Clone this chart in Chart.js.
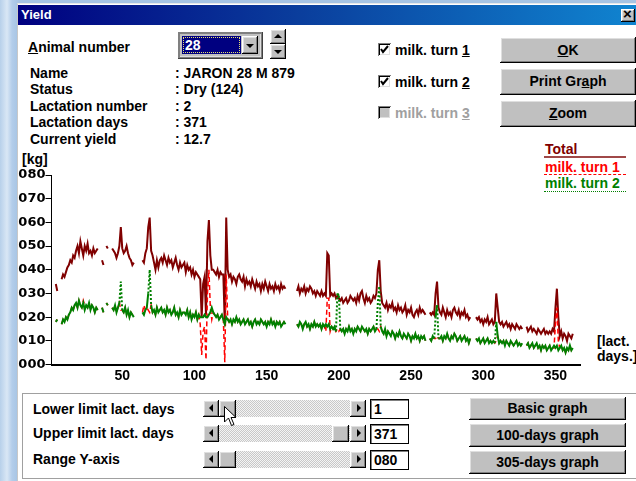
<!DOCTYPE html>
<html><head><meta charset="utf-8">
<script src="https://cdn.jsdelivr.net/npm/chart.js@4.4.1/dist/chart.umd.min.js"></script>
<style>
html,body{margin:0;padding:0}
body{width:636px;height:481px;position:relative;overflow:hidden;background:linear-gradient(90deg,#b7d0ea 0,#d9e7f5 7px,#b3cdea 12px,#a6c4e4 18px);font-family:'Liberation Sans',Arial,sans-serif}
.abs{position:absolute}
.t{position:absolute;font:bold 14px 'Liberation Sans',Arial,sans-serif;line-height:16px;white-space:nowrap;color:#000}
.raised{position:absolute;background:#c0c0c0;box-shadow:inset -1px -1px #000,inset 1px 1px #fff,inset -2px -2px #808080,inset 2px 2px #dfdfdf}
.btn{font:bold 14px 'Liberation Sans',Arial,sans-serif;text-align:center;color:#000;white-space:nowrap}
.sunken{position:absolute;background:#fff;box-shadow:inset 1px 1px #808080,inset -1px -1px #fff,inset 2px 2px #000,inset -2px -2px #dfdfdf}
.track{position:absolute;height:17px;background:repeating-conic-gradient(#c8c8c8 0 25%,#f4f4f4 0 50%) 0 0/2px 2px}
.tri-l{position:absolute;width:0;height:0;border-top:4px solid transparent;border-bottom:4px solid transparent;border-right:4px solid #000}
.tri-r{position:absolute;width:0;height:0;border-top:4px solid transparent;border-bottom:4px solid transparent;border-left:4px solid #000}
.tri-d{position:absolute;width:0;height:0;border-left:4px solid transparent;border-right:4px solid transparent;border-top:4px solid #000}
.tri-u{position:absolute;width:0;height:0;border-left:4px solid transparent;border-right:4px solid transparent;border-bottom:4px solid #000}
.edit{position:absolute;background:#fff;border:1px solid #000;box-shadow:inset 1px 1px #808080;font:bold 14px 'Liberation Sans',Arial,sans-serif;line-height:18px;padding-left:3px;box-sizing:border-box}
#chart{position:absolute;left:0;top:0;z-index:5;pointer-events:none}
</style></head>
<body>
<!-- dialog body -->
<div class="abs" style="left:17px;top:3px;width:619px;height:478px;background:#fff;border-left:1px solid #c8c8c8;border-top:1px solid #e8e8e8"></div>
<!-- title bar -->
<div class="abs" style="left:18px;top:5px;width:618px;height:20px;background:linear-gradient(90deg,#000080 0,#0a3d9c 45%,#1084d0 100%)"></div>
<div class="t" style="left:21px;top:7px;color:#fff;font-size:13px">Yield</div>
<div class="raised" style="left:621px;top:9px;width:14px;height:13px"></div>
<div class="t" style="left:623px;top:6px;font-size:15px">×</div>

<!-- animal info -->
<div class="t" style="left:28px;top:39px"><u>A</u>nimal number</div>
<div class="abs" style="left:177px;top:31px;width:86px;height:28px;background:#c0c0c0;box-shadow:inset 1px 1px #fff,inset -1px -1px #404040,inset 2px 2px #808080,inset -2px -2px #808080,inset 3px 3px #808080,inset -3px -3px #dfdfdf"></div>
<div class="abs" style="left:182px;top:36px;width:59px;height:18px;background:#000080"></div>
<div class="abs" style="left:183px;top:37px;width:55px;height:14px;border:1px dotted #e8e070"></div>
<div class="t" style="left:185px;top:37px;color:#fff">28</div>
<div class="raised" style="left:242px;top:36px;width:16px;height:18px"></div>
<div class="tri-d" style="left:246px;top:44px"></div>
<div class="raised" style="left:270px;top:29px;width:16px;height:15px"></div>
<div class="tri-u" style="left:274px;top:34px"></div>
<div class="raised" style="left:270px;top:44px;width:16px;height:15px"></div>
<div class="tri-d" style="left:274px;top:50px"></div>

<div class="t" style="left:30px;top:65px">Name</div>
<div class="t" style="left:30px;top:81px">Status</div>
<div class="t" style="left:30px;top:98px">Lactation number</div>
<div class="t" style="left:30px;top:114px">Lactation days</div>
<div class="t" style="left:30px;top:131px">Current yield</div>
<div class="t" style="left:175px;top:65px">: JARON 28 M 879</div>
<div class="t" style="left:175px;top:81px">: Dry (124)</div>
<div class="t" style="left:175px;top:98px">: 2</div>
<div class="t" style="left:175px;top:114px">: 371</div>
<div class="t" style="left:175px;top:131px">: 12.7</div>

<!-- checkboxes -->
<div class="sunken" style="left:378px;top:43px;width:13px;height:13px"></div>
<svg class="abs" style="left:378px;top:43px" width="13" height="13"><polyline points="3,6 5,9 10,3" fill="none" stroke="#000" stroke-width="2"/></svg>
<div class="t" style="left:395px;top:42px">milk. turn <u>1</u></div>
<div class="sunken" style="left:378px;top:75px;width:13px;height:13px"></div>
<svg class="abs" style="left:378px;top:75px" width="13" height="13"><polyline points="3,6 5,9 10,3" fill="none" stroke="#000" stroke-width="2"/></svg>
<div class="t" style="left:395px;top:74px">milk. turn <u>2</u></div>
<div class="sunken" style="left:378px;top:106px;width:13px;height:13px;background:#c0c0c0"></div>
<div class="t" style="left:395px;top:105px;color:#a0a0a0">milk. turn <u>3</u></div>

<!-- buttons -->
<div class="raised btn" style="left:500px;top:37px;width:136px;height:26px;line-height:26px"><u>O</u>K</div>
<div class="raised btn" style="left:500px;top:68px;width:136px;height:27px;line-height:27px">Print Gr<u>a</u>ph</div>
<div class="raised btn" style="left:500px;top:100px;width:136px;height:27px;line-height:27px"><u>Z</u>oom</div>

<!-- legend -->
<div class="t" style="left:545px;top:141px;color:#800000">Total</div>
<div class="abs" style="left:544px;top:156px;width:82px;border-top:2px solid #a04848"></div>
<div class="t" style="left:545px;top:159px;color:#ff0000">milk. turn 1</div>
<div class="abs" style="left:544px;top:174px;width:82px;border-top:1px dashed #ff0000"></div>
<div class="t" style="left:545px;top:175px;color:#008000">milk. turn 2</div>
<div class="abs" style="left:544px;top:191px;width:82px;border-top:1px dotted #008000"></div>

<!-- axis titles -->
<div class="t" style="left:22px;top:151px">[kg]</div>
<div class="t" style="left:597px;top:333px">[lact.</div>
<div class="t" style="left:597px;top:348px">days.]</div>

<!-- bottom panel -->
<div class="abs" style="left:22px;top:393px;width:620px;height:84px;border:1px solid #a0a0a0;box-shadow:1px 1px #fff"></div>
<div class="t" style="left:33px;top:401px">Lower limit lact. days</div>
<div class="t" style="left:33px;top:425px">Upper limit lact. days</div>
<div class="t" style="left:33px;top:451px">Range Y-axis</div>

<div class="track" style="left:203px;top:400px;width:163px"></div>
<div class="raised" style="left:203px;top:400px;width:16px;height:17px"></div><div class="tri-l" style="left:209px;top:404px"></div>
<div class="raised" style="left:219px;top:400px;width:17px;height:17px"></div>
<div class="raised" style="left:350px;top:400px;width:16px;height:17px"></div><div class="tri-r" style="left:357px;top:404px"></div>
<div class="edit" style="left:370px;top:399px;width:39px;height:20px">1</div>

<div class="track" style="left:203px;top:425px;width:163px"></div>
<div class="raised" style="left:203px;top:425px;width:16px;height:17px"></div><div class="tri-l" style="left:209px;top:429px"></div>
<div class="raised" style="left:332px;top:425px;width:17px;height:17px"></div>
<div class="raised" style="left:350px;top:425px;width:16px;height:17px"></div><div class="tri-r" style="left:357px;top:429px"></div>
<div class="edit" style="left:370px;top:424px;width:39px;height:20px">371</div>

<div class="track" style="left:203px;top:451px;width:163px"></div>
<div class="raised" style="left:203px;top:451px;width:16px;height:17px"></div><div class="tri-l" style="left:209px;top:455px"></div>
<div class="raised" style="left:219px;top:451px;width:17px;height:17px"></div>
<div class="raised" style="left:350px;top:451px;width:16px;height:17px"></div><div class="tri-r" style="left:357px;top:455px"></div>
<div class="edit" style="left:370px;top:450px;width:39px;height:20px">080</div>

<div class="raised btn" style="left:469px;top:397px;width:157px;height:23px;line-height:23px">Basic graph</div>
<div class="raised btn" style="left:469px;top:423px;width:157px;height:24px;line-height:24px">100-days graph</div>
<div class="raised btn" style="left:469px;top:450px;width:157px;height:24px;line-height:24px">305-days graph</div>

<svg class="abs" style="left:224px;top:406px;z-index:6" width="14" height="22"><polygon points="0.5,0.5 0.5,16 4.5,12 7.5,19.5 10,18.5 7,11.5 12,11.5" fill="#fff" stroke="#000" stroke-width="1"/></svg>

<canvas id="chart" width="636" height="481"></canvas>

<script>
// ---- data, one value per lactation day starting at day 1 ----
const FIRST_DAY = 1;
const TOTAL = [
null,null,null,34,31,null,null,36,38,37,
39,41,42,44,43,46,45,48,50,47,
52,49,46,50,48,51,47,48,46,49,
47,48,49,null,null,44,42,null,50,49,
null,null,49,48,47,45,47,50,58,49,
47,48,50,47,45,44,42,43,null,null,
null,null,null,44,43,47,49,58,62,48,
46,43,40,44,41,44,45,43,46,44,
42,45,43,44,41,43,45,42,40,43,
41,42,43,39,42,40,41,38,40,37,
39,38,37,36,20,34,37,21,52,61,
46,40,40,39,38,40,37,39,38,38,
17,62,40,37,38,35,37,36,34,37,
38,36,35,37,33,36,34,35,33,36,
34,32,35,33,34,31,34,32,35,33,
31,34,32,33,31,34,32,33,31,34,
32,33,32,null,null,null,null,null,null,null,
31,33,30,32,31,33,30,32,31,33,
32,30,31,29,31,30,29,31,29,30,
29,47,46,29,30,29,30,28,29,28,
27,28,26,27,28,26,27,29,28,27,
28,26,29,27,30,31,28,26,29,27,
28,26,27,29,28,30,40,44,31,26,
25,24,26,23,25,24,26,23,24,22,
25,23,24,22,23,25,21,23,22,24,
21,20,22,23,21,24,22,23,22,21,
null,null,22,21,22,21,30,35,24,22,
21,24,22,20,23,21,22,20,23,24,
22,21,23,20,22,21,23,20,21,19,
20,null,null,null,20,19,20,18,19,17,
19,18,20,17,18,19,17,18,30,24,
18,17,18,16,17,18,16,17,15,17,
16,15,17,16,15,16,15,null,null,16,
14,15,16,14,15,14,13,15,14,13,
14,15,13,14,13,14,13,15,14,24,
32,20,12,14,11,13,12,10,13,12,
11,13
];
const TURN1 = [
null,null,null,18,19,null,null,17,19,18,
20,19,21,22,24,23,25,26,24,27,
25,24,27,25,25,24,26,23,25,24,
22,24,23,null,null,24,22,null,26,25,
null,null,24,23,25,22,24,26,23,23,
22,24,21,23,20,22,21,20,null,null,
null,null,null,22,25,23,24,23,22,25,
22,23,21,24,22,23,24,22,23,21,
24,22,23,21,22,24,21,22,20,23,
21,22,22,21,23,20,22,19,21,20,
22,19,21,17,4,14,16,2,30,40,
24,19,22,21,20,21,19,20,21,19,
1,38,20,18,19,17,19,18,20,18,
19,17,18,19,17,18,19,17,18,16,
18,19,17,18,17,19,18,17,18,16,
18,17,19,17,18,16,18,17,18,16,
17,18,17,null,null,null,null,null,null,null,
17,16,18,17,15,17,18,16,17,15,
17,16,18,16,17,16,17,15,17,16,
14,28,28,14,16,15,16,14,15,14,
15,14,15,13,15,14,16,14,15,13,
15,14,16,15,14,16,15,14,15,13,
15,14,15,16,14,15,15,14,16,14,
13,15,12,14,13,12,14,13,11,13,
12,14,12,11,13,12,11,13,12,10,
12,11,13,11,12,10,12,11,12,10,
null,null,11,10,12,11,11,12,11,11,
12,10,12,11,13,11,10,12,11,13,
12,10,11,12,10,11,12,10,11,9,
11,null,null,null,11,10,11,9,10,11,
9,10,11,9,10,9,10,9,10,12,
9,10,9,10,8,10,9,8,10,9,
8,9,10,8,9,8,9,null,null,8,
9,7,8,9,7,8,9,7,8,6,
8,7,8,6,7,8,6,7,7,17,
24,10,7,8,6,7,5,7,6,8,
6,7
];
const TURN2 = [
null,null,null,18,19,null,null,17,19,18,
20,19,21,22,24,23,25,26,24,27,
25,24,26,23,25,24,26,23,25,24,
22,24,23,null,null,24,22,null,26,25,
null,null,24,23,25,22,24,26,35,23,
22,24,21,23,20,22,21,20,null,null,
null,null,null,22,21,23,24,30,40,25,
22,23,21,24,22,23,24,22,23,21,
24,22,23,21,22,24,21,22,20,23,
21,22,22,21,23,20,22,19,21,20,
22,19,21,20,20,20,21,20,20,21,
22,24,22,21,20,21,19,20,21,19,
17,20,19,18,19,17,19,18,20,18,
19,17,18,19,17,18,19,17,18,16,
18,19,17,18,17,19,18,17,18,16,
18,17,19,17,18,16,18,17,18,16,
17,18,17,null,null,null,null,null,null,null,
17,16,18,17,15,17,18,16,17,15,
17,16,18,16,17,16,17,15,17,16,
17,16,17,15,16,15,16,14,30,29,
15,14,15,13,15,14,16,14,15,13,
15,14,16,15,14,16,15,14,15,13,
15,14,15,16,14,15,26,33,16,14,
13,15,12,14,13,12,14,13,11,13,
12,14,12,11,13,12,11,13,12,10,
12,11,13,11,12,10,12,11,12,10,
null,null,11,10,12,11,20,25,11,11,
12,10,12,11,13,11,10,12,11,13,
12,10,11,12,10,11,12,10,11,9,
11,null,null,null,11,10,11,9,10,11,
9,10,11,9,10,9,10,9,18,12,
9,10,9,10,8,10,9,8,10,9,
8,9,10,8,9,8,9,null,null,8,
9,7,8,9,7,8,9,7,8,6,
8,7,8,6,7,8,6,7,8,7,
8,6,7,8,6,7,5,7,6,8,
6,7
];
const Y_TICKS = [0,10,20,30,40,50,60,70,80];
const X_TICKS = [50,100,150,200,250,300,350];
const X_MIN = 1, X_MAX = 367, Y_MIN = 0, Y_MAX = 80;

// ---- chart ----
const toPoints = arr => arr.map((v, i) => ({x: FIRST_DAY + i, y: v}));
const bigStep = ctx => Math.abs(ctx.p1.parsed.y - ctx.p0.parsed.y) > 6;
const common = {pointRadius:0, pointHoverRadius:0, tension:0, fill:false, spanGaps:false, borderWidth:2};

const chart = new Chart(document.getElementById('chart'), {
  type: 'line',
  data: {
    datasets: [
      Object.assign({}, common, {label:'milk. turn 2', data: toPoints(TURN2), borderColor:'#008000', order:0,
        borderDash:[], segment:{borderDash: ctx => bigStep(ctx) ? [2,2] : undefined}}),
      Object.assign({}, common, {label:'milk. turn 1', data: toPoints(TURN1), borderColor:'#ff0000', order:1,
        borderDash:[5,3], borderWidth:1.5}),
      Object.assign({}, common, {label:'Total', data: toPoints(TOTAL), borderColor:'#800000', order:2})
    ]
  },
  options: {
    responsive:false, animation:false, devicePixelRatio:1, events:[],
    layout:{padding:{left:0, top:168, right:56, bottom:95}},
    plugins:{legend:{display:false}, tooltip:{enabled:false}},
    scales:{
      x:{type:'linear', min:X_MIN, max:X_MAX,
        afterBuildTicks: s => { s.ticks = X_TICKS.map(v => ({value:v})); },
        ticks:{color:'#000', font:{family:'Liberation Sans', weight:'bold', size:14}, padding:3, maxRotation:0, autoSkip:false},
        grid:{display:false, drawTicks:false},
        border:{display:true, color:'#000', width:2}},
      y:{type:'linear', min:Y_MIN, max:Y_MAX,
        afterBuildTicks: s => { s.ticks = Y_TICKS.map(v => ({value:v})); },
        ticks:{color:'#000', font:{family:'DejaVu Sans', weight:'bold', size:13}, padding:0,
          callback: v => String(v).padStart(3, '0')},
        grid:{drawOnChartArea:false, drawTicks:true, tickLength:6, color:'#000', lineWidth:1},
        border:{display:true, color:'#000', width:1}}
    }
  }
});

// place the plot area where the dialog has it
const AREA = {left:51.5, top:175, right:580, bottom:364.5};
function fitArea(){
  const a = chart.chartArea, p = chart.options.layout.padding;
  p.left += AREA.left - a.left;
  p.top += AREA.top - a.top;
  p.right += a.right - AREA.right;
  p.bottom += a.bottom - AREA.bottom;
  chart.update('none');
}
fitArea(); fitArea();
</script>
</body></html>
